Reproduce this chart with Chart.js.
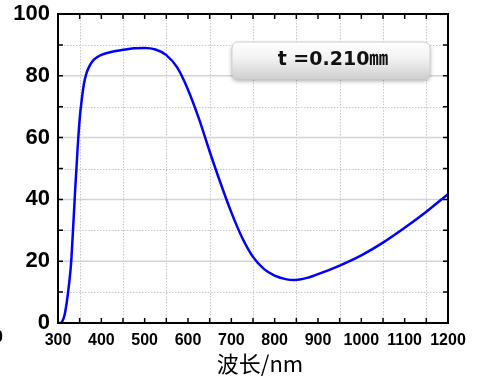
<!DOCTYPE html>
<html>
<head>
<meta charset="utf-8">
<script src="https://cdn.jsdelivr.net/npm/chart.js@4.4.0/dist/chart.umd.min.js"></script>
<style>
    html, body { margin: 0; padding: 0; background: #fff; }
    #wrap { width: 484px; height: 378px; position: relative; }
</style>
</head>
<body>
<div id="wrap"><canvas id="chartCanvas"></canvas></div>
<script>
// wavelength (nm) and transmittance (%)
const wavelengths = [300, 305, 310, 315, 320, 325, 330, 335, 340, 345, 350, 355, 360, 365, 370, 380, 390, 400, 425, 450, 475, 500, 525, 550, 575, 600, 625, 650, 675, 700, 725, 750, 775, 800, 825, 845, 875, 900, 950, 1000, 1050, 1100, 1150, 1200];
const transmittance = [0, 0, 0.5, 2.5, 6.5, 12, 19, 31, 44, 56, 66, 72.5, 77.5, 80.5, 82.4, 84.8, 86, 86.8, 87.8, 88.4, 88.9, 89, 88.5, 86.7, 82.7, 75.5, 66.2, 55.5, 45.3, 35.8, 27.6, 21.4, 17.5, 15.3, 14.2, 13.9, 14.6, 15.8, 18.6, 21.9, 26, 30.8, 36, 41.7];
const xTicks = [300, 400, 500, 600, 700, 800, 900, 1000, 1100, 1200];
const yTicks = [0, 20, 40, 60, 80, 100];
const xTitle = '波长/nm';
const boxLabel = 't =0.210㎜';

document.addEventListener('DOMContentLoaded', () => {
    const chartCanvas = document.getElementById('chartCanvas');

    const frame = {
        id: 'frame',
        beforeDatasetsDraw(chart) {
            const { ctx, chartArea: a, scales: { x, y } } = chart;
            ctx.save();
            ctx.lineWidth = 1;
            // dotted minor grid
            ctx.strokeStyle = '#c8c8c8';
            ctx.setLineDash([1.5, 1.5]);
            for (let v = 350; v < 1200; v += 100) {
                const px = Math.round(x.getPixelForValue(v)) + 0.5;
                ctx.beginPath(); ctx.moveTo(px, a.top); ctx.lineTo(px, a.bottom); ctx.stroke();
            }
            for (let v = 10; v < 100; v += 20) {
                const py = Math.round(y.getPixelForValue(v)) + 0.5;
                ctx.beginPath(); ctx.moveTo(a.left, py); ctx.lineTo(a.right, py); ctx.stroke();
            }
            // solid major horizontal grid
            ctx.setLineDash([]);
            ctx.strokeStyle = '#d4d4d4';
            ctx.lineWidth = 1.5;
            for (let v = 20; v < 100; v += 20) {
                const py = y.getPixelForValue(v);
                ctx.beginPath(); ctx.moveTo(a.left, py); ctx.lineTo(a.right, py); ctx.stroke();
            }
            ctx.restore();
        },
        afterDatasetsDraw(chart) {
            const { ctx, chartArea: a, scales: { x, y } } = chart;
            ctx.save();
            ctx.strokeStyle = '#000';
            ctx.lineWidth = 2;
            ctx.strokeRect(a.left, a.top, a.right - a.left, a.bottom - a.top);
            // inward ticks
            ctx.lineWidth = 1.5;
            for (let v = 350; v < 1200; v += 50) {
                const px = x.getPixelForValue(v);
                ctx.beginPath();
                ctx.moveTo(px, a.bottom); ctx.lineTo(px, a.bottom - 5);
                ctx.moveTo(px, a.top); ctx.lineTo(px, a.top + 5);
                ctx.stroke();
            }
            for (let v = 10; v < 100; v += 10) {
                const py = y.getPixelForValue(v);
                ctx.beginPath();
                ctx.moveTo(a.left, py); ctx.lineTo(a.left + 5, py);
                ctx.moveTo(a.right, py); ctx.lineTo(a.right - 5, py);
                ctx.stroke();
            }
            // label box
            const bx = 232, by = 42, bw = 198, bh = 37, r = 6;
            ctx.shadowColor = 'rgba(0,0,0,0.35)';
            ctx.shadowBlur = 4;
            ctx.shadowOffsetY = 2;
            const g = ctx.createLinearGradient(0, by, 0, by + bh);
            g.addColorStop(0, '#ffffff');
            g.addColorStop(0.45, '#f2f2f2');
            g.addColorStop(1, '#cfcfcf');
            ctx.fillStyle = g;
            ctx.beginPath();
            ctx.roundRect(bx, by, bw, bh, r);
            ctx.fill();
            ctx.shadowColor = 'transparent';
            ctx.strokeStyle = '#d0d0d0';
            ctx.lineWidth = 1;
            ctx.stroke();
            ctx.fillStyle = '#111';
            ctx.font = 'bold 19px "DejaVu Sans", "Noto Sans CJK JP"';
            ctx.textAlign = 'center';
            ctx.textBaseline = 'middle';
            ctx.fillText(boxLabel, bx + bw / 2 + 2, by + bh / 2);
            // x axis title
            ctx.fillStyle = '#000';
            ctx.font = '22px "Noto Sans CJK SC"';
            ctx.fillText(xTitle, 260, 364);
            // clipped glyph at left edge
            ctx.font = 'bold 16px "Liberation Sans"';
            ctx.textAlign = 'right';
            ctx.fillText('0', 3, 338);
            ctx.restore();
        }
    };

    new Chart(chartCanvas, {
        type: 'line',
        data: {
            datasets: [{
                data: wavelengths.map((w, i) => ({ x: w, y: transmittance[i] })),
                borderColor: '#0000ff',
                borderWidth: 2.5,
                pointRadius: 0,
                cubicInterpolationMode: 'monotone',
                fill: false
            }]
        },
        options: {
            responsive: true,
            maintainAspectRatio: false,
            animation: false,
            events: [],
            layout: { padding: { top: 14, right: 36, left: 0, bottom: 0 } },
            plugins: { legend: { display: false }, tooltip: { enabled: false } },
            scales: {
                x: {
                    type: 'linear',
                    min: 300,
                    max: 1200,
                    afterBuildTicks: s => { s.ticks = xTicks.map(v => ({ value: v })); },
                    grid: { display: false, drawTicks: false },
                    border: { display: false },
                    ticks: {
                        maxRotation: 0,
                        autoSkip: false,
                        padding: 8,
                        color: '#000',
                        callback: v => String(v),
                        font: { family: 'Liberation Sans', size: 16, weight: 'bold' }
                    },
                    afterFit: s => { s.height = 55; s.paddingLeft = 0; s.paddingRight = 0; }
                },
                y: {
                    min: 0,
                    max: 100,
                    afterBuildTicks: s => { s.ticks = yTicks.map(v => ({ value: v })); },
                    grid: { display: false, drawTicks: false },
                    border: { display: false },
                    ticks: {
                        padding: 8,
                        color: '#000',
                        callback: v => String(v),
                        font: { family: 'Liberation Sans', size: 22, weight: 'bold' }
                    },
                    afterFit: s => { s.width = 58; s.paddingTop = 0; s.paddingBottom = 0; }
                }
            }
        },
        plugins: [frame]
    });
});
</script>
</body>
</html>
